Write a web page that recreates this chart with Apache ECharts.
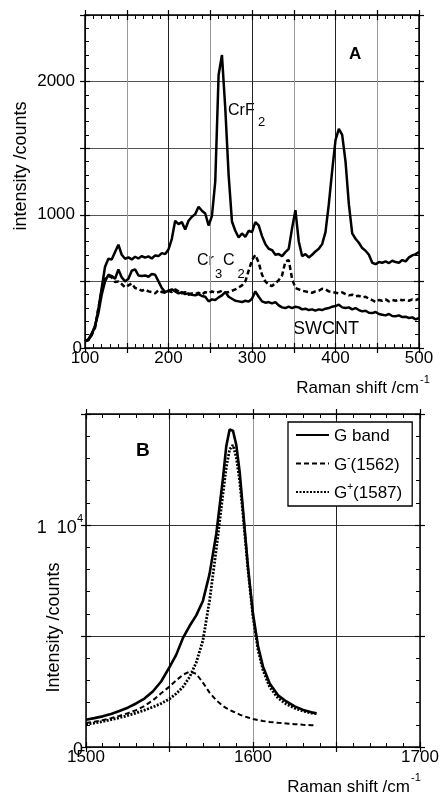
<!DOCTYPE html>
<html>
<head>
<meta charset="utf-8">
<script src="https://cdn.jsdelivr.net/npm/echarts@6/dist/echarts.min.js"></script>
<style>html,body{margin:0;padding:0;background:#fff;}#c{width:441px;height:796px;}</style>
</head>
<body>
<div id="c"></div>
<script>
// ---------- Panel A data ----------
const shiftA = [100,104,108,112,116,120,124,128,132,136,140,144,148,152,156,160,164,168,172,176,180,184,188,192,196,200,204,208,212,216,220,224,228,232,236,240,244,248,252,256,260,264,268,272,276,280,284,288,292,296,300,304,308,312,316,320,324,328,332,336,340,344,348,352,356,360,364,368,372,376,380,384,388,392,396,400,404,408,412,416,420,424,428,432,436,440,444,448,452,456,460,464,468,472,476,480,484,488,492,496,500];
const crF2 = [50,65,110,160,290,450,610,670,665,720,775,700,670,680,665,685,672,690,678,688,672,695,690,712,705,740,820,955,930,945,890,955,985,1005,1060,1030,1010,920,990,1250,2050,2200,1800,1300,950,880,830,860,835,880,870,945,920,840,780,745,735,700,705,690,720,745,900,1035,800,690,705,680,700,725,745,780,870,1080,1330,1560,1645,1600,1400,1080,860,820,790,750,730,700,640,630,645,640,650,638,655,645,640,660,650,680,695,705,720];
const cr3C2 = [50,60,100,150,300,430,520,540,530,495,500,480,455,470,485,450,445,430,440,425,420,410,435,420,415,430,420,440,425,410,420,400,410,405,415,400,420,410,425,415,420,430,415,420,430,440,455,470,500,580,660,700,640,550,500,475,465,485,510,545,650,660,520,450,440,430,425,420,415,425,430,445,440,425,420,415,410,418,405,395,400,388,392,380,385,370,360,345,360,355,365,350,360,355,365,358,362,355,365,360,370];
const swcnt = [50,60,95,170,260,400,500,550,540,520,590,530,500,520,580,590,545,540,545,535,555,550,500,450,420,430,440,425,410,420,405,410,400,395,405,390,385,350,365,360,380,395,420,385,370,355,350,345,355,348,370,425,385,350,340,345,335,345,320,305,300,310,300,310,305,290,295,285,290,280,290,285,295,300,310,315,325,305,300,305,290,300,285,275,280,265,262,270,255,250,245,255,240,238,245,232,235,225,230,215,225];

// ---------- Panel B data ----------
const shiftB = [1500,1505,1510,1515,1520,1525,1530,1535,1540,1545,1550,1554,1558,1562,1566,1570,1574,1578,1582,1584,1586,1588,1590,1592,1594,1597,1600,1603,1606,1610,1615,1620,1625,1630,1635,1638];
const gBand = [1230,1300,1380,1490,1620,1770,1960,2180,2500,2950,3600,4150,4900,5450,5930,6580,7800,9600,12100,13550,14300,14250,13600,12400,10700,8100,6000,4550,3620,2860,2330,2050,1830,1670,1560,1520];
const gMinus = [1080,1140,1210,1300,1400,1520,1660,1850,2100,2420,2720,3000,3250,3400,3300,2900,2450,2100,1850,1750,1670,1600,1530,1460,1400,1330,1260,1210,1170,1130,1090,1060,1030,1000,985,975];
const gPlus = [1020,1080,1150,1230,1320,1420,1530,1660,1800,1960,2170,2400,2700,3150,3800,4800,6600,8900,11400,12600,13400,13600,13050,12000,10500,8000,5850,4380,3460,2700,2200,1930,1750,1620,1530,1500];

const legendNames = ['G band', 'G-(1562)', 'G+(1587)'];

const FONT = 'Liberation Sans, Arial, Helvetica, sans-serif';
const pairs = (xs, ys) => xs.map((x, i) => [x, ys[i]]);

const chart = echarts.init(document.getElementById('c'), null, {renderer: 'canvas'});

const gridA = {left: 85, top: 15, width: 334, height: 333, outerBoundsMode: 'none'};
const gridB = {left: 86, top: 414, width: 334, height: 333, outerBoundsMode: 'none'};

function mainX(gi, pos, min, max, iv, labelFn, splitColors) {
  return {
    type: 'value', gridIndex: gi, position: pos, min: min, max: max, interval: iv,
    axisLine: {show: true, onZero: false, lineStyle: {color: '#000', width: 1.5}},
    axisTick: {show: true, inside: false, length: 5, lineStyle: {color: '#000', width: 1.2}},
    minorTick: {show: false},
    axisLabel: labelFn ? {show: true, formatter: labelFn, fontSize: 17, fontFamily: FONT, color: '#000', margin: 2, hideOverlap: false} : {show: false},
    splitLine: splitColors ? {show: true, lineStyle: {color: splitColors, width: 1}} : {show: false}
  };
}
function innerAx(gi, pos, min, max, iv) {
  return {
    type: 'value', gridIndex: gi, position: pos, min: min, max: max, interval: iv,
    axisLine: {show: false, onZero: false},
    axisTick: {show: true, inside: true, length: 5, lineStyle: {color: '#000', width: 1.2}},
    minorTick: {show: true, splitNumber: 5, length: 4, lineStyle: {color: '#000', width: 1}},
    axisLabel: {show: false},
    splitLine: {show: false}
  };
}
function mainY(gi, pos, min, max, iv, labelFn, splitColors, rich, margin) {
  return {
    type: 'value', gridIndex: gi, position: pos, min: min, max: max, interval: iv,
    axisLine: {show: true, onZero: false, lineStyle: {color: '#000', width: 1.5}},
    axisTick: {show: true, inside: false, length: 5, lineStyle: {color: '#000', width: 1.2}},
    minorTick: {show: false},
    axisLabel: labelFn ? {show: true, formatter: labelFn, fontSize: 17, fontFamily: FONT, color: '#000', margin: margin, rich: rich} : {show: false},
    splitLine: splitColors ? {show: true, lineStyle: {color: splitColors, width: 1}} : {show: false}
  };
}

const richA = {n: {fontSize: 17, fontFamily: FONT, color: '#000', padding: [0, 7, 0, 0]}, z: {fontSize: 17, fontFamily: FONT, color: '#000'}};
const richB = {
  n: {fontSize: 18, fontFamily: FONT, color: '#000', lineHeight: 24, verticalAlign: 'bottom'},
  s: {fontSize: 11, fontFamily: FONT, color: '#000', lineHeight: 10, verticalAlign: 'top'}
};

const lblXA = v => (v % 100 === 0 ? String(v) : '');
const lblYA = v => (v === 0 ? '{z|0}' : (v === 1000 || v === 2000) ? '{n|' + v + '}' : '');
const lblXB = v => (v % 100 === 0 ? String(v) : '');
const lblYB = v => (v === 0 ? '{n|0}' : v === 10000 ? '{n|1  10}{s|4}' : '');

const legendRich = {
  m: {fontSize: 17, fontFamily: FONT, color: '#000', lineHeight: 20, verticalAlign: 'bottom'},
  s: {fontSize: 10, fontFamily: FONT, color: '#000', lineHeight: 10, verticalAlign: 'top'}
};

const option = {
  backgroundColor: '#fff',
  animation: false,
  grid: [gridA, Object.assign({}, gridA), gridB, Object.assign({}, gridB)],
  xAxis: [
    mainX(0, 'bottom', 100, 500, 50, lblXA, ['#222', '#999']),
    mainX(0, 'top', 100, 500, 50, null, null),
    innerAx(1, 'bottom', 100, 500, 50),
    innerAx(1, 'top', 100, 500, 50),
    mainX(2, 'bottom', 1500, 1700, 50, lblXB, ['#999', '#222']),
    mainX(2, 'top', 1500, 1700, 50, null, null),
    innerAx(3, 'bottom', 1500, 1700, 50),
    innerAx(3, 'top', 1500, 1700, 50)
  ],
  yAxis: [
    mainY(0, 'left', 0, 2500, 500, lblYA, '#555', richA, 3),
    mainY(0, 'right', 0, 2500, 500, null, null),
    innerAx(1, 'left', 0, 2500, 500),
    innerAx(1, 'right', 0, 2500, 500),
    mainY(2, 'left', 0, 15000, 5000, lblYB, '#333', richB, 3),
    mainY(2, 'right', 0, 15000, 5000, null, null),
    innerAx(3, 'left', 0, 15000, 5000),
    innerAx(3, 'right', 0, 15000, 5000)
  ],
  legend: {
    show: true,
    data: legendNames,
    orient: 'vertical',
    left: 288, top: 422,
    width: 124,
    padding: [6, 10, 4, 7],
    itemWidth: 33, itemHeight: 14, itemGap: 8.5,
    backgroundColor: '#fff',
    borderColor: '#000', borderWidth: 1.3, borderRadius: 0,
    itemStyle: {opacity: 0},
    selectedMode: false,
    formatter: function (name) {
      if (name === 'G-(1562)') return '{m|G}{s|-}{m|(1562)}';
      if (name === 'G+(1587)') return '{m|G}{s|+}{m|(1587)}';
      return '{m|' + name + '}';
    },
    textStyle: {rich: legendRich, fontSize: 17, fontFamily: FONT, color: '#000'}
  },
  series: [
    {name: 'CrF2', type: 'line', xAxisIndex: 0, yAxisIndex: 0, data: pairs(shiftA, crF2), showSymbol: false, symbol: 'none', lineStyle: {color: '#000', width: 2.5}, z: 5},
    {name: 'Cr3C2', type: 'line', xAxisIndex: 0, yAxisIndex: 0, data: pairs(shiftA, cr3C2), showSymbol: false, symbol: 'none', lineStyle: {color: '#000', width: 2.5, type: [5, 3]}, z: 4},
    {name: 'SWCNT', type: 'line', xAxisIndex: 0, yAxisIndex: 0, data: pairs(shiftA, swcnt), showSymbol: false, symbol: 'none', lineStyle: {color: '#000', width: 2.5}, z: 5},
    {name: legendNames[0], type: 'line', xAxisIndex: 4, yAxisIndex: 4, data: pairs(shiftB, gBand), showSymbol: false, symbol: 'none', lineStyle: {color: '#000', width: 2.6}, z: 5},
    {name: legendNames[1], type: 'line', xAxisIndex: 4, yAxisIndex: 4, data: pairs(shiftB, gMinus), showSymbol: false, symbol: 'none', lineStyle: {color: '#000', width: 2, type: [5, 3]}, z: 4},
    {name: legendNames[2], type: 'line', xAxisIndex: 4, yAxisIndex: 4, data: pairs(shiftB, gPlus), showSymbol: false, symbol: 'none', lineStyle: {color: '#000', width: 2.8, type: [2, 1.5]}, z: 4}
  ],
  graphic: [
    {type: 'text', x: 349, y: 54, style: {text: 'A', font: 'bold 17px ' + FONT, fill: '#000', verticalAlign: 'middle'}},
    {type: 'text', x: 228, y: 110.5, style: {text: 'CrF', font: '16px ' + FONT, fill: '#000', verticalAlign: 'middle'}},
    {type: 'text', x: 258, y: 122.5, style: {text: '2', font: '13px ' + FONT, fill: '#000', verticalAlign: 'middle'}},
    {type: 'text', x: 197, y: 260.5, style: {text: 'Cr', font: '16px ' + FONT, fill: '#000', verticalAlign: 'middle'}},
    {type: 'text', x: 215, y: 274, style: {text: '3', font: '13px ' + FONT, fill: '#000', verticalAlign: 'middle'}},
    {type: 'text', x: 223, y: 260.5, style: {text: 'C', font: '16px ' + FONT, fill: '#000', verticalAlign: 'middle'}},
    {type: 'text', x: 237.5, y: 274, style: {text: '2', font: '13px ' + FONT, fill: '#000', verticalAlign: 'middle'}},
    {type: 'text', x: 293, y: 329, style: {text: 'SWCNT', font: '18px ' + FONT, fill: '#000', verticalAlign: 'middle'}},
    {type: 'text', x: 21, y: 166, rotation: Math.PI / 2, style: {text: 'intensity /counts', font: '18px ' + FONT, fill: '#000', align: 'center', verticalAlign: 'middle'}},
    {type: 'text', x: 419, y: 388, style: {text: 'Raman shift /cm', font: '17px ' + FONT, fill: '#000', align: 'right', verticalAlign: 'middle'}},
    {type: 'text', x: 420, y: 380, style: {text: '-1', font: '11px ' + FONT, fill: '#000', verticalAlign: 'middle'}},
    {type: 'text', x: 136, y: 451, style: {text: 'B', font: 'bold 19px ' + FONT, fill: '#000', verticalAlign: 'middle'}},
    {type: 'text', x: 54.5, y: 627.5, rotation: Math.PI / 2, style: {text: 'Intensity /counts', font: '18px ' + FONT, fill: '#000', align: 'center', verticalAlign: 'middle'}},
    {type: 'text', x: 410, y: 787.5, style: {text: 'Raman shift /cm', font: '17px ' + FONT, fill: '#000', align: 'right', verticalAlign: 'middle'}},
    {type: 'text', x: 411, y: 778, style: {text: '-1', font: '11px ' + FONT, fill: '#000', verticalAlign: 'middle'}}
  ]
};
chart.setOption(option);
</script>
</body>
</html>
